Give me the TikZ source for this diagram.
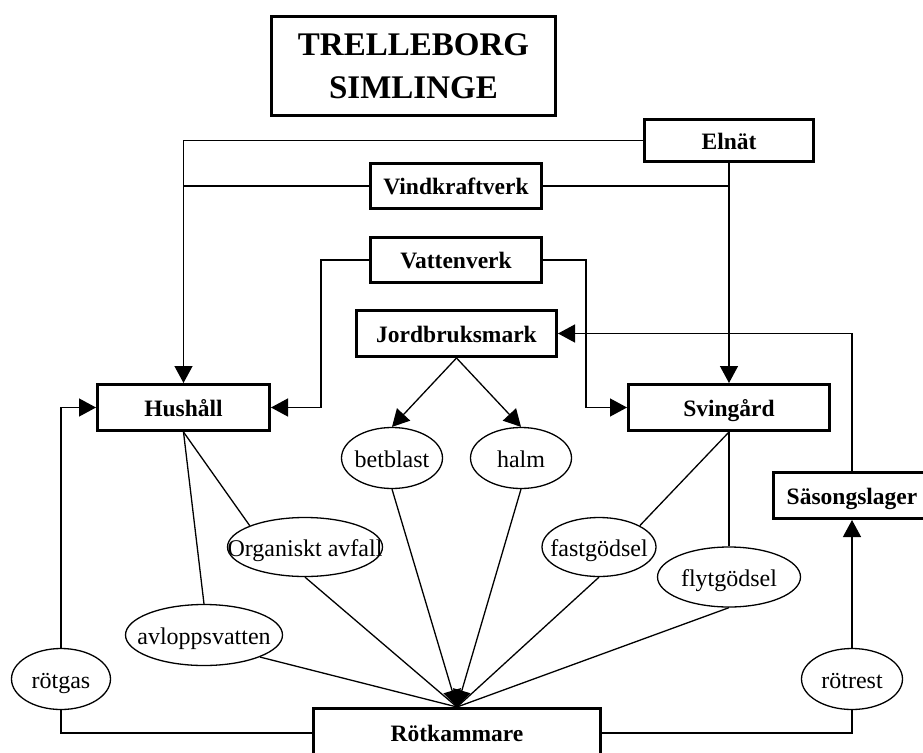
\documentclass[tikz,border=0pt]{standalone}
\usepackage{fontspec}
\setmainfont{Liberation Serif}
\usetikzlibrary{arrows.meta,shapes.geometric}
% text placed at the node centre without affecting the node size
\newcommand\centredtext[1]{\raisebox{-9pt}[0pt][0pt]{\makebox[0pt]{#1}}}
\begin{document}
\begin{tikzpicture}[x=1pt,y=-1pt,
  box/.style={draw,line width=3pt,rectangle,inner sep=0pt,
    font=\fontsize{23.5}{28}\selectfont\bfseries,text height=17pt,text depth=0pt},
  oval/.style={draw,line width=1.3pt,ellipse,inner sep=0pt,
    font=\fontsize{24}{28}\selectfont},
  link/.style={line width=1.3pt},
  arr/.style={link,-{Triangle[length=17pt,width=18pt]}}]
\useasboundingbox (0,0) rectangle (923,752);

% boxes
\node[draw,line width=3pt,inner sep=0pt,minimum width=284pt,minimum height=98pt,
  align=center,font=\fontsize{33}{43}\selectfont\bfseries] (title) at (413.5,66)
  {TRELLEBORG\\SIMLINGE};
\node[box,minimum width=169pt,minimum height=42pt] (elnat)  at (729,140.5) {Elnät};
\node[box,minimum width=171pt,minimum height=45pt] (vind)   at (456,186) {Vindkraftverk};
\node[box,minimum width=171pt,minimum height=45pt] (vatten) at (456,260) {Vattenverk};
\node[box,minimum width=200pt,minimum height=46pt] (jord)   at (456.5,333.5) {Jordbruksmark};
\node[box,minimum width=172pt,minimum height=46pt] (hush)   at (183.5,407.5) {Hushåll};
\node[box,minimum width=201pt,minimum height=46pt] (sving)  at (729,407.5) {Svingård};
\node[box,minimum width=157pt,minimum height=46pt] (sasong) at (852,495.5) {Säsongslager};
\node[box,minimum width=287pt,minimum height=49pt] (rot)    at (457,733) {Rötkammare};

% flows
\node[oval,minimum width=99pt,minimum height=61pt]  (rotgas)  at (61,679)  {\centredtext{rötgas}};
\node[oval,minimum width=101pt,minimum height=61pt] (rotrest) at (852,679) {\centredtext{rötrest}};
\node[oval,minimum width=101pt,minimum height=61pt] (betblast) at (392,458) {\centredtext{betblast}};
\node[oval,minimum width=101pt,minimum height=61pt] (halm)    at (521,458) {\centredtext{halm}};
\node[oval,minimum width=155pt,minimum height=59pt] (organ)   at (305,547) {\centredtext{Organiskt avfall}};
\node[oval,minimum width=157pt,minimum height=61pt] (avlopp)  at (204,635) {\centredtext{avloppsvatten}};
\node[oval,minimum width=114pt,minimum height=59pt] (fast)    at (599,547) {\centredtext{fastgödsel}};
\node[oval,minimum width=143pt,minimum height=60pt] (flyt)    at (729,577) {\centredtext{flytgödsel}};

% electricity
\draw[arr] (elnat.west) -| (hush.north);
\draw[arr] (elnat.south) -- (sving.north);
\draw[link] (vind.west) -- (vind.west -| hush.north);
\draw[link] (vind.east) -- (vind.east -| elnat.south);

% water
\draw[arr] (vatten.west) -- ++(-48,0) |- (hush.east);
\draw[arr] (vatten.east) -- ++(43,0) |- (sving.west);

% crops
\draw[arr] (jord.south) -- (betblast.north);
\draw[arr] (jord.south) -- (halm.north);
\draw[arr] (sasong.north) |- (jord.east);

% substrates to the digester
\draw[link] (hush.south) -- (organ.north west);
\draw[link] (hush.south) -- (avlopp.north);
\draw[link] (sving.south) -- (fast.north east);
\draw[link] (sving.south) -- (flyt.north);
\draw[link] (organ.south) -- (rot.north);
\draw[link] (avlopp.south east) -- (rot.north);
\draw[link] (fast.south) -- (rot.north);
\draw[link] (flyt.south) -- (rot.north);
\draw[arr] (betblast.south) -- (rot.north);
\draw[arr] (halm.south) -- (rot.north);

% digester outputs
\draw[arr] (rotgas.north) |- (hush.west);
\draw[link] (rotgas.south) |- (rot.west);
\draw[link] (rot.east) -| (rotrest.south);
\draw[arr] (rotrest.north) -- (sasong.south);
\end{tikzpicture}
\end{document}
